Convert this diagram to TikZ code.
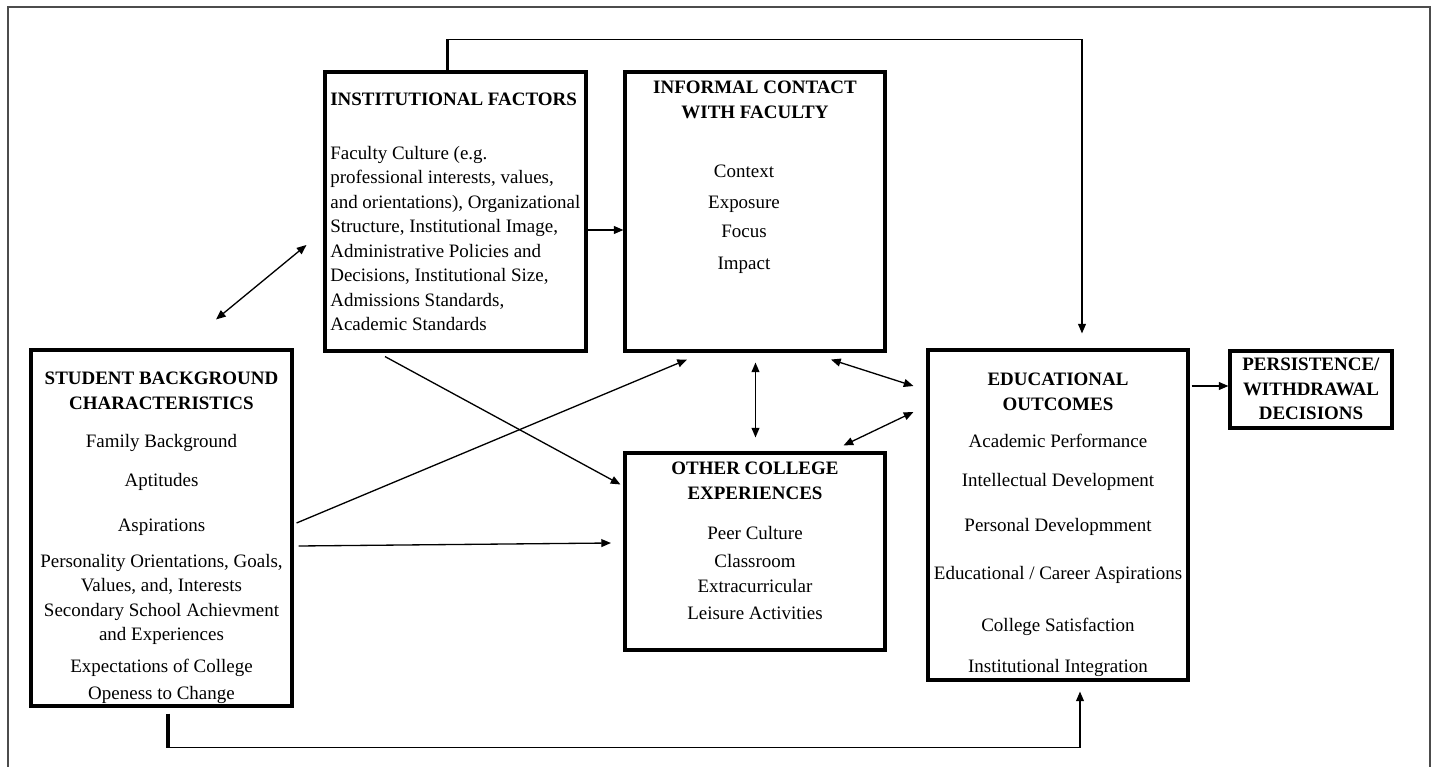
\documentclass[tikz,border=0pt]{standalone}
\usepackage{fontspec}
\setmainfont{Liberation Serif}
\usetikzlibrary{arrows.meta,calc}
\begin{document}
\begin{tikzpicture}[x=0.02cm,y=-0.02cm,>={Triangle[length=5.5pt,width=4.5pt]},
    box/.style={draw,line width=1.8pt,inner sep=0pt},
    txt/.style={inner sep=0pt,anchor=north,align=center,font=\fontsize{10.8}{13.9}\selectfont},
    link/.style={line width=0.75pt},
    stub/.style={line width=1.8pt}]
  \useasboundingbox (0,0) rectangle (1438,767);
  \draw[black!70,line width=1pt] (8,767) -- (8,7) -- (1430,7) -- (1430,767);

  \node[box,minimum width=5.22cm,minimum height=7.12cm] (sbc) at (161.5,528) {};
  \node[box,minimum width=5.22cm,minimum height=5.58cm] (inst) at (455.5,211.5) {};
  \node[box,minimum width=5.2cm,minimum height=5.58cm] (icf) at (755,211.5) {};
  \node[box,minimum width=5.2cm,minimum height=3.94cm] (oce) at (755,551.5) {};
  \node[box,minimum width=5.2cm,minimum height=6.6cm] (eo) at (1058,515) {};
  \node[box,minimum width=3.24cm,minimum height=1.54cm] (pwd) at (1311,389.5) {};

  \node[txt] (sbctxt) at (161.5,372) {\textbf{STUDENT BACKGROUND}\\\textbf{CHARACTERISTICS}\\[7.7pt]
    Family Background\\[8.3pt] Aptitudes\\[11.7pt] Aspirations\\[6.6pt]
    Personality Orientations, Goals,\\ Values, and, Interests\\
    Secondary School Achievment\\ and Experiences\\[4.3pt]
    Expectations of College\\[1.5pt] Openess to Change};
  \node[txt,anchor=north west,align=left] (insttxt) at (330,92.7) {\textbf{INSTITUTIONAL FACTORS}\\[16.8pt]
    Faculty Culture (e.g.\\ professional interests, values,\\ and orientations), Organizational\\
    Structure, Institutional Image,\\ Administrative Policies and\\ Decisions, Institutional Size,\\
    Admissions Standards,\\ Academic Standards};
  \node[txt] (icftxt) at (755,80.7) {\textbf{INFORMAL CONTACT}\\\textbf{WITH FACULTY}};
  \node[txt] (icfitems) at (744,164.5) {Context\\[3.8pt] Exposure\\[2.6pt] Focus\\[4.3pt] Impact};
  \node[txt] (ocetxt) at (755,461.7) {\textbf{OTHER COLLEGE}\\\textbf{EXPERIENCES}\\[9.4pt]
    Peer Culture\\[2pt] Classroom\\ Extracurricular\\[1.5pt] Leisure Activities};
  \node[txt] (eotxt) at (1058,372.7) {\textbf{EDUCATIONAL}\\\textbf{OUTCOMES}\\[7.7pt]
    Academic Performance\\[8.3pt] Intellectual Development\\[11.7pt] Personal Developmment\\[13.4pt]
    Educational / Career Aspirations\\[15.7pt] College Satisfaction\\[9.4pt] Institutional Integration};
  \node[txt] (pwdtxt) at (1311,357.7) {\textbf{PERSISTENCE/}\\\textbf{WITHDRAWAL}\\\textbf{DECISIONS}};

  \draw[stub] ($(inst.north)+(-8,0)$) -- ++(0,-31) coordinate (topstart);
  \draw[link,->] (topstart) -| ($(eo.north)+(24,-15)$);
  \draw[stub] ($(sbc.south)+(6.5,6)$) -- ++(0,34) coordinate (botstart);
  \draw[link,->] (botstart) -| ($(eo.south)+(22,10)$);

  \draw[link,<->] ($(sbc.north)+(54.5,-29)$) -- ($(inst.west)+(-17,33.5)$);
  \draw[link,->] ($(inst.east)+(0,18.5)$) -- ($(icf.west)+(0,18.5)$);
  \draw[link,->] ($(inst.south)+(-70.5,4)$) -- ($(oce.west)+(-3,-67)$);
  \draw[link,->] ($(sbc.east)+(3,-5)$) -- ($(icf.south)+(-68,7)$);
  \draw[link,->] ($(sbc.east)+(5,18)$) -- ($(oce.west)+(-12.5,-8.5)$);
  \draw[link,<->] ($(icf.south)+(0.5,10)$) -- ($(oce.north)+(0.5,-14)$);
  \draw[link,<->] ($(icf.south)+(76,7)$) -- ($(eo.west)+(-13,-129)$);
  \draw[link,<->] ($(oce.north east)+(-43,-6)$) -- ($(eo.west)+(-13,-103)$);
  \draw[link,->] ($(eo.east)+(2,-129)$) -- ($(pwd.west)+(0,-3.5)$);
\end{tikzpicture}
\end{document}
